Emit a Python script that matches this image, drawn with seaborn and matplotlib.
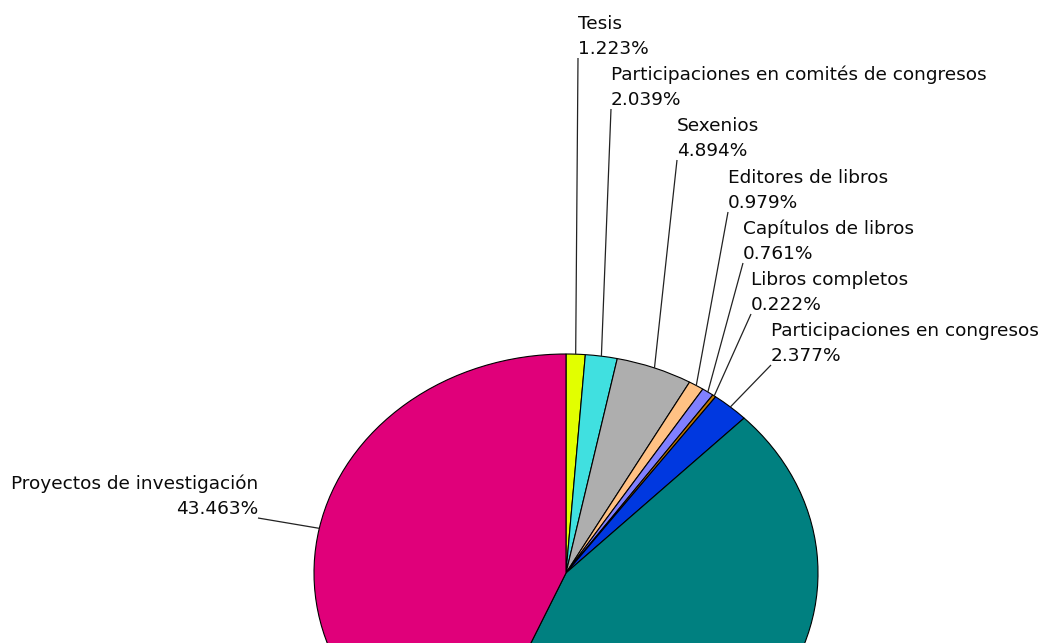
import numpy as np
import matplotlib
matplotlib.use("Agg")
import matplotlib.pyplot as plt
import seaborn as sns

categories = ["Tesis", "Participaciones en comités de congresos", "Sexenios",
              "Editores de libros", "Capítulos de libros", "Libros completos",
              "Participaciones en congresos", "Artículos", "Proyectos de investigación"]
values = [1.223, 2.039, 4.894, 0.979, 0.761, 0.222, 2.377, 44.042, 43.463]
show_label = [True, True, True, True, True, True, True, False, True]
colors = ["#E2FF00", "#40E0E0", "#AEAEAE", "#FFC184", "#8080FF", "#C07800",
          "#0038E0", "#008080", "#E0007A"]

# label anchor points (pixels) and alignment
label_anchor_px = [(578, 58), (611, 109), (677, 160), (728, 212), (743, 263),
                   (751, 314), (771, 365), None, (258, 518)]
label_ha = ["left"] * 7 + [None, "right"]

sns.set_theme(style="white")
plt.rcParams["font.family"] = ["DejaVu Sans"]

W, H = 1051, 643
fig = plt.figure(figsize=(W / 100, H / 100), dpi=100)
ax = fig.add_axes([0, 0, 1, 1])

CX, CY, RX, RY = 566, 573, 252, 219


def to_data(px, py):
    return (px - CX) / RX, (CY - py) / RY


wedges, _ = ax.pie(values, colors=colors, startangle=90, counterclock=False,
                   radius=1, center=(0, 0),
                   wedgeprops=dict(edgecolor="black", linewidth=0.8))
ax.set_aspect("auto")
x0, _ = to_data(0, 0)
x1, _ = to_data(W, 0)
_, y0 = to_data(0, H)
_, y1 = to_data(0, 0)
ax.set_xlim(x0, x1)
ax.set_ylim(y0, y1)
ax.axis("off")

for w, cat, val, show, anc, ha in zip(wedges, categories, values, show_label,
                                      label_anchor_px, label_ha):
    if not show:
        continue
    mid = np.deg2rad((w.theta1 + w.theta2) / 2)
    ex, ey = np.cos(mid), np.sin(mid)
    tx, ty = to_data(*anc)
    ax.plot([ex, tx], [ey, ty], color="#222222", lw=0.9, solid_capstyle="butt")
    ax.text(tx, ty, f"{cat}\n{val:.3f}%", ha=ha, va="bottom", fontsize=13.3,
            linespacing=1.5, color="#0a0a0a", multialignment=ha)

fig.savefig("out.png", dpi=100, facecolor="white")
